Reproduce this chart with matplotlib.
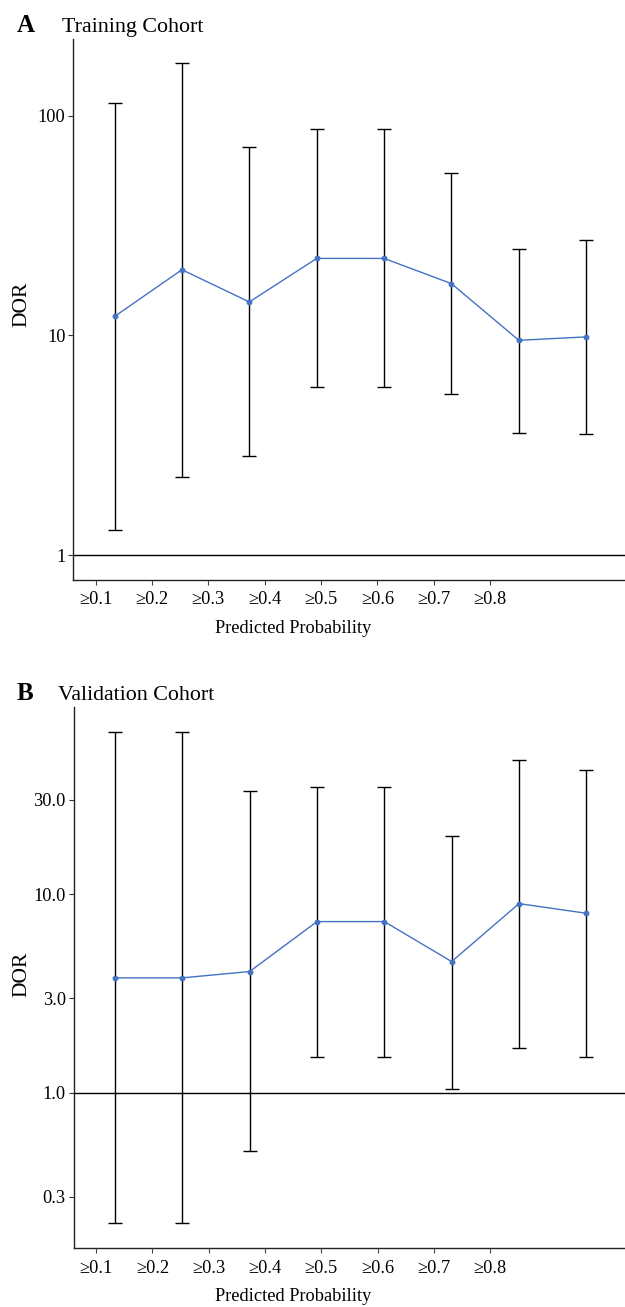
import numpy as np
import matplotlib
matplotlib.use("Agg")
import matplotlib.pyplot as plt
import matplotlib.transforms as mtransforms

plt.rcParams['font.family'] = ['Liberation Serif', 'DejaVu Serif']

categories = ["≥0.1", "≥0.2", "≥0.3", "≥0.4", "≥0.5", "≥0.6", "≥0.7", "≥0.8"]

train_dor = [12.2, 19.9, 14.2, 22.4, 22.4, 17.2, 9.5, 9.85]
train_lo = [1.31, 2.27, 2.83, 5.81, 5.81, 5.42, 3.60, 3.56]
train_hi = [114, 173, 72.3, 87.0, 87.0, 54.7, 24.8, 27.3]

valid_dor = [3.80, 3.80, 4.09, 7.30, 7.30, 4.59, 8.99, 8.04]
valid_lo = [0.22, 0.22, 0.51, 1.52, 1.52, 1.05, 1.69, 1.52]
valid_hi = [65.9, 65.9, 33.1, 34.9, 34.9, 19.8, 47.6, 42.4]

panels = [
    ("A", "Training Cohort", train_dor, train_lo, train_hi,
     (0.776, 223), [1, 10, 100], ["1", "10", "100"]),
    ("B", "Validation Cohort", valid_dor, valid_lo, valid_hi,
     (0.166, 87.7), [0.3, 1, 3, 10, 30], ["0.3", "1.0", "3.0", "10.0", "30.0"]),
]

W, H = 625, 1307
fig = plt.figure(figsize=(W / 100, H / 100), dpi=100)

axes_px = [(73, 39, 579.5), (73.5, 707.3, 1247.7)]
title_base = [32, 700]
title_x = [62, 58]
ylab_y = [0.51, 0.505]
FS = 13.2
blue = "#4472C4"

for (letter, title, dor, lo, hi, ylim, yt, ytl), (lx, top, bot), ty, tx, yly in zip(
        panels, axes_px, title_base, title_x, ylab_y):
    ax = fig.add_axes([lx / W, 1 - bot / H, 1 - lx / W, (bot - top) / H])
    x = np.arange(len(categories))
    dor = np.array(dor); lo = np.array(lo); hi = np.array(hi)
    ax.axhline(1, color="black", lw=1.0, zorder=1)
    ax.errorbar(x, dor, yerr=[dor - lo, hi - dor], fmt="none", ecolor="black",
                elinewidth=1.0, capsize=5, capthick=1.0, zorder=2)
    ax.plot(x, dor, color=blue, lw=1.0, marker="o", ms=3.2, zorder=3)
    ax.set_yscale("log")
    ax.set_ylim(*ylim)
    ax.set_xlim(-0.617, 7.575)
    ax.set_yticks(yt)
    ax.set_yticklabels(ytl)
    ax.yaxis.set_minor_locator(matplotlib.ticker.NullLocator())
    ax.set_xticks([])
    ax.tick_params(axis="y", labelsize=FS, length=3.5, width=0.8, color="#333333", pad=2)
    for s in ["top", "right"]:
        ax.spines[s].set_visible(False)
    for s in ["left", "bottom"]:
        ax.spines[s].set_color("#222222")
        ax.spines[s].set_linewidth(1.0)
    ax.set_ylabel("DOR", fontsize=15.5)
    ax.yaxis.set_label_coords(31 / W, yly, transform=mtransforms.blended_transform_factory(
        fig.transFigure, ax.transAxes))

    # category label axis
    axl = ax.twiny()
    axl.set_xlim(-0.40, 9.39)
    axl.xaxis.set_ticks_position("bottom")
    axl.xaxis.set_label_position("bottom")
    axl.set_xticks(x)
    axl.set_xticklabels(categories)
    axl.tick_params(axis="x", labelsize=FS, length=3.5, width=0.8, color="#444444", pad=5)
    for s in axl.spines.values():
        s.set_visible(False)
    axl.set_xlabel("Predicted Probability", fontsize=FS)
    tr = mtransforms.blended_transform_factory(axl.transData, axl.transAxes)
    axl.xaxis.set_label_coords(np.mean(x), -0.09, transform=tr)
    axl.xaxis.label.set_verticalalignment("center")

    fig.text(17 / W, 1 - ty / H, letter, fontsize=18, fontweight="bold", va="baseline", ha="left")
    fig.text(tx / W, 1 - ty / H, title, fontsize=15.8, va="baseline", ha="left")

fig.savefig("out.png", dpi=100)
